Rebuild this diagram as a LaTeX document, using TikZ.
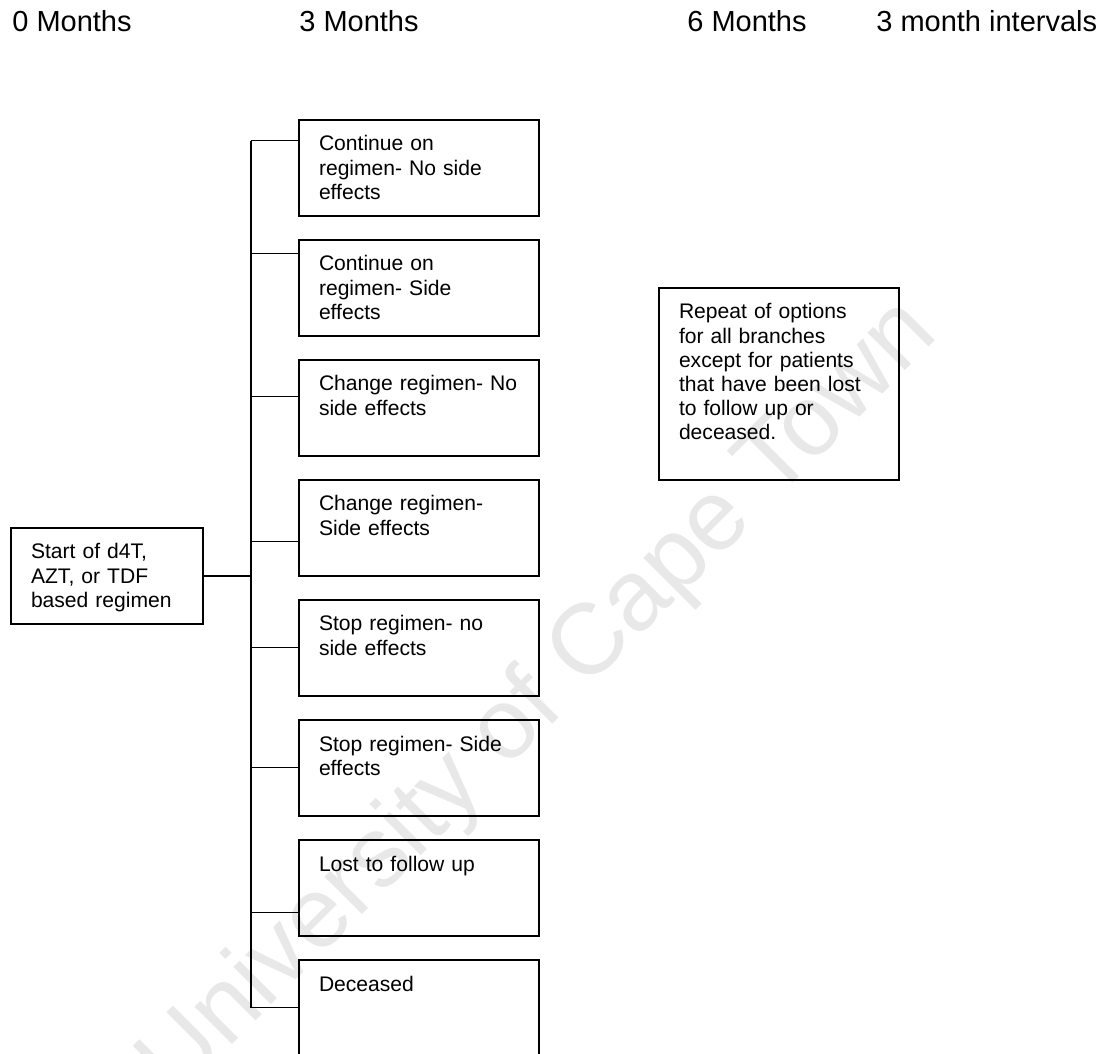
\documentclass[tikz,border=0pt]{standalone}
\usepackage{fontspec}
\setmainfont{Liberation Sans}
\usepackage{tikz}
\usetikzlibrary{positioning}
\tikzstyle{box} = [rectangle, draw=black, line width=0.75pt, align=left, inner xsep=0.4cm, inner ysep=0.2cm, text height=0.42cm, font=\fontsize{12}{13.7}\selectfont]
\tikzstyle{option} = [box, text width=4.0cm, text depth=1.1cm]
\tikzstyle{startbox} = [box, text width=3.04cm, text depth=1.1cm]
\tikzstyle{note} = [box, text width=4.0cm, text depth=3.02cm]
\tikzstyle{heading} = [anchor=base west, inner sep=0pt, font=\fontsize{16.5}{20}\selectfont]
\tikzstyle{link} = [line width=0.75pt]
\tikzstyle{watermark} = [rotate=45, text=black!9, inner sep=0pt, font=\fontsize{57}{64}\selectfont]

\begin{document}
\begin{tikzpicture}[node distance=2.4cm]
\useasboundingbox (0,0) rectangle (22.22,-21.08);

\node (wm) [watermark] at (10.8,-14.0) {University of Cape Town};

\node (h0) [heading] at (0.24,-0.64) {0 Months};
\node (h3) [heading] at (5.98,-0.64) {3 Months};
\node (h6) [heading] at (13.74,-0.64) {6 Months};
\node (hint) [heading] at (17.52,-0.64) {3 month intervals};

\node (start) [startbox] at (2.14,-11.52) {Start of d4T,\\AZT, or TDF\\based regimen};

\node (o1) [option] at (8.38,-3.36) {Continue on\\regimen- No side\\effects};
\node (o2) [option, below of=o1] {Continue on\\regimen- Side\\effects};
\node (o3) [option, below of=o2] {Change regimen- No\\side effects};
\node (o4) [option, below of=o3] {Change regimen-\\Side effects};
\node (o5) [option, below of=o4] {Stop regimen- no\\side effects};
\node (o6) [option, below of=o5] {Stop regimen- Side\\effects};
\node (o7) [option, below of=o6] {Lost to follow up};
\node (o8) [option, below of=o7] {Deceased};

\node (rep) [note] at (15.58,-7.68) {Repeat of options\\for all branches\\except for patients\\that have been lost\\to follow up or\\deceased.};

\coordinate (top) at (5.02,-2.82);
\coordinate (bot) at (5.02,-20.16);
\draw [link] (top) -- (bot);
\draw [link] (start) -- (start -| top);

\draw [link] ([yshift=-0.42cm]o1.north west) coordinate (j1) -- (j1 -| top);
\draw [link] ([yshift=-0.28cm]o2.north west) coordinate (j2) -- (j2 -| top);
\draw [link] ([yshift=-0.74cm]o3.north west) coordinate (j3) -- (j3 -| top);
\draw [link] ([yshift=-1.24cm]o4.north west) coordinate (j4) -- (j4 -| top);
\draw [link] ([yshift=-0.96cm]o5.north west) coordinate (j5) -- (j5 -| top);
\draw [link] ([yshift=-0.96cm]o6.north west) coordinate (j6) -- (j6 -| top);
\draw [link] ([yshift=-1.46cm]o7.north west) coordinate (j7) -- (j7 -| top);
\draw [link] ([yshift=-0.96cm]o8.north west) coordinate (j8) -- (j8 -| top);

\end{tikzpicture}
\end{document}
